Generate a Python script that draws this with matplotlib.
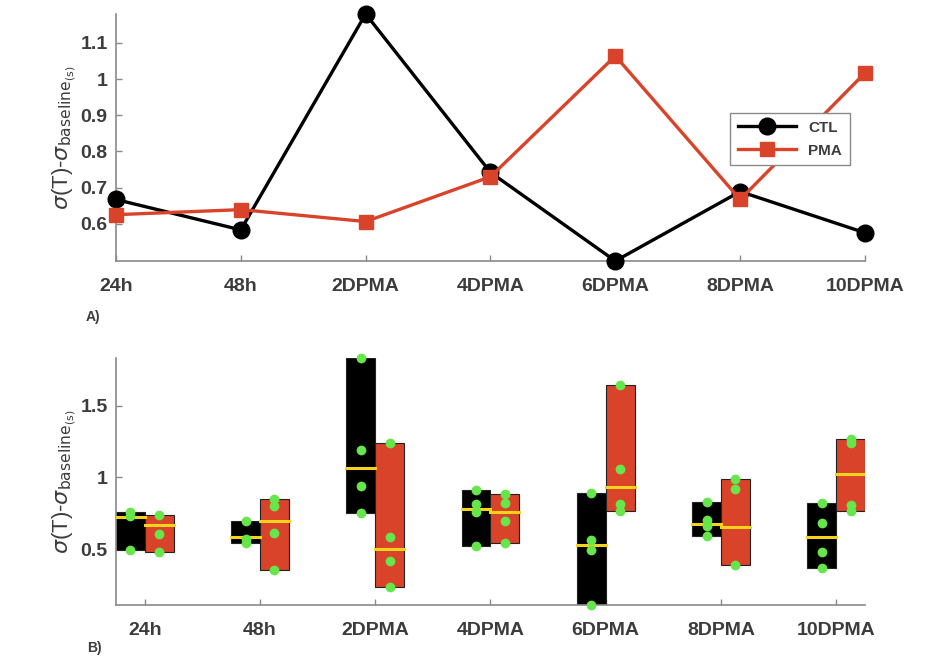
import numpy as np
import matplotlib
matplotlib.use("Agg")
import matplotlib.pyplot as plt

# time points
timepoints = ['24h', '48h', '2DPMA', '4DPMA', '6DPMA', '8DPMA', '10DPMA']

# panel A: mean response per group
ctl_mean = [0.667, 0.583, 1.180, 0.742, 0.497, 0.689, 0.575]
pma_mean = [0.625, 0.639, 0.606, 0.730, 1.064, 0.667, 1.017]

# panel B: individual samples per time point
ctl_points = [
    [0.757, 0.728, 0.495],
    [0.694, 0.572, 0.540],
    [1.831, 1.190, 0.940, 0.752],
    [0.912, 0.815, 0.760, 0.525],
    [0.889, 0.562, 0.495, 0.111],
    [0.830, 0.700, 0.660, 0.590],
    [0.819, 0.685, 0.481, 0.366],
]
pma_points = [
    [0.741, 0.602, 0.477],
    [0.850, 0.801, 0.611, 0.358],
    [1.236, 0.581, 0.419, 0.234],
    [0.885, 0.819, 0.697, 0.546],
    [1.646, 1.056, 0.817, 0.766],
    [0.991, 0.917, 0.391],
    [1.264, 1.240, 0.808, 0.766],
]
# yellow summary line in each box
ctl_center = [0.726, 0.586, 1.067, 0.778, 0.528, 0.678, 0.581]
pma_center = [0.667, 0.697, 0.500, 0.755, 0.933, 0.657, 1.021]

RED = '#d9432a'
GREEN = '#66e64a'
YELLOW = '#f5d21c'
TXT = '#3c3c3c'
SPINE = '#8a8a8a'

plt.rcParams['font.family'] = ['Liberation Sans', 'DejaVu Sans']
plt.rcParams['mathtext.fontset'] = 'dejavusans'

ylab = r'$\sigma$(T)-$\sigma_{\mathrm{baseline}_{\mathrm{(s)}}}$'


def style_axes(ax):
    for s in ['top', 'right']:
        ax.spines[s].set_visible(False)
    for s in ['left', 'bottom']:
        ax.spines[s].set_color(SPINE)
        ax.spines[s].set_linewidth(1.2)
    ax.tick_params(direction='in', length=4, color=SPINE, width=1,
                   labelsize=14, labelcolor=TXT)
    ax.tick_params(axis='x', pad=12)
    ax.tick_params(axis='y', pad=6)
    for lbl in ax.get_xticklabels() + ax.get_yticklabels():
        lbl.set_fontweight('bold')


fig = plt.figure(figsize=(9.27, 6.69), dpi=100)
x = np.arange(1, len(timepoints) + 1)

# A) line plot of group means
ax1 = fig.add_axes([0.1251, 0.6099, 0.808, 0.3692])
ax1.plot(x, ctl_mean, '-o', color='black', lw=2.4, ms=12, label='CTL', clip_on=False, zorder=3)
ax1.plot(x, pma_mean, '-s', color=RED, lw=2.4, ms=10, label='PMA', clip_on=False, zorder=3)
ax1.set_xlim(1, 7)
ax1.set_ylim(min(ctl_mean + pma_mean), max(ctl_mean + pma_mean))
ax1.set_xticks(x)
ax1.set_xticklabels(timepoints)
ax1.set_yticks([0.6, 0.7, 0.8, 0.9, 1.0, 1.1])
ax1.set_yticklabels(['0.6', '0.7', '0.8', '0.9', '1', '1.1'])
style_axes(ax1)
ax1.set_ylabel(ylab, fontsize=16, color=TXT, labelpad=2)
leg = ax1.legend(loc='upper left', bbox_to_anchor=(0.81, 0.63), handlelength=3.8,
                 fancybox=False, framealpha=1, edgecolor=SPINE,
                 prop={'weight': 'bold', 'size': 11}, borderpad=0.5, labelspacing=0.6)
for t in leg.get_texts():
    t.set_color(TXT)
fig.text(0.092, 0.526, 'A)', fontsize=10, fontweight='bold', color=TXT, ha='left', va='center')

# B) range boxes with individual samples
ax2 = fig.add_axes([0.1251, 0.0957, 0.808, 0.3692])
w = 0.25
for i in range(len(timepoints)):
    for pts, mid, col, off in [(ctl_points[i], ctl_center[i], 'black', -w / 2),
                               (pma_points[i], pma_center[i], RED, w / 2)]:
        xc = x[i] + off
        lo, hi = min(pts), max(pts)
        ax2.bar(xc, hi - lo, bottom=lo, width=w, color=col, edgecolor='#222222',
                linewidth=0.8, zorder=2)
        ax2.plot([xc - w / 2, xc + w / 2], [mid, mid], color=YELLOW, lw=2.2, zorder=3)
        ax2.plot([xc] * len(pts), pts, 'o', color=GREEN, ms=6, mec=GREEN,
                 zorder=4, clip_on=False)

all_pts = [v for p in ctl_points + pma_points for v in p]
ax2.set_xlim(0.75, 7.25)
ax2.set_ylim(min(all_pts), max(all_pts))
ax2.set_xticks(x)
ax2.set_xticklabels(timepoints)
ax2.set_yticks([0.5, 1.0, 1.5])
ax2.set_yticklabels(['0.5', '1', '1.5'])
style_axes(ax2)
ax2.set_ylabel(ylab, fontsize=16, color=TXT, labelpad=2)
fig.text(0.094, 0.031, 'B)', fontsize=10, fontweight='bold', color=TXT, ha='left', va='center')

fig.savefig('out.png', dpi=100)
